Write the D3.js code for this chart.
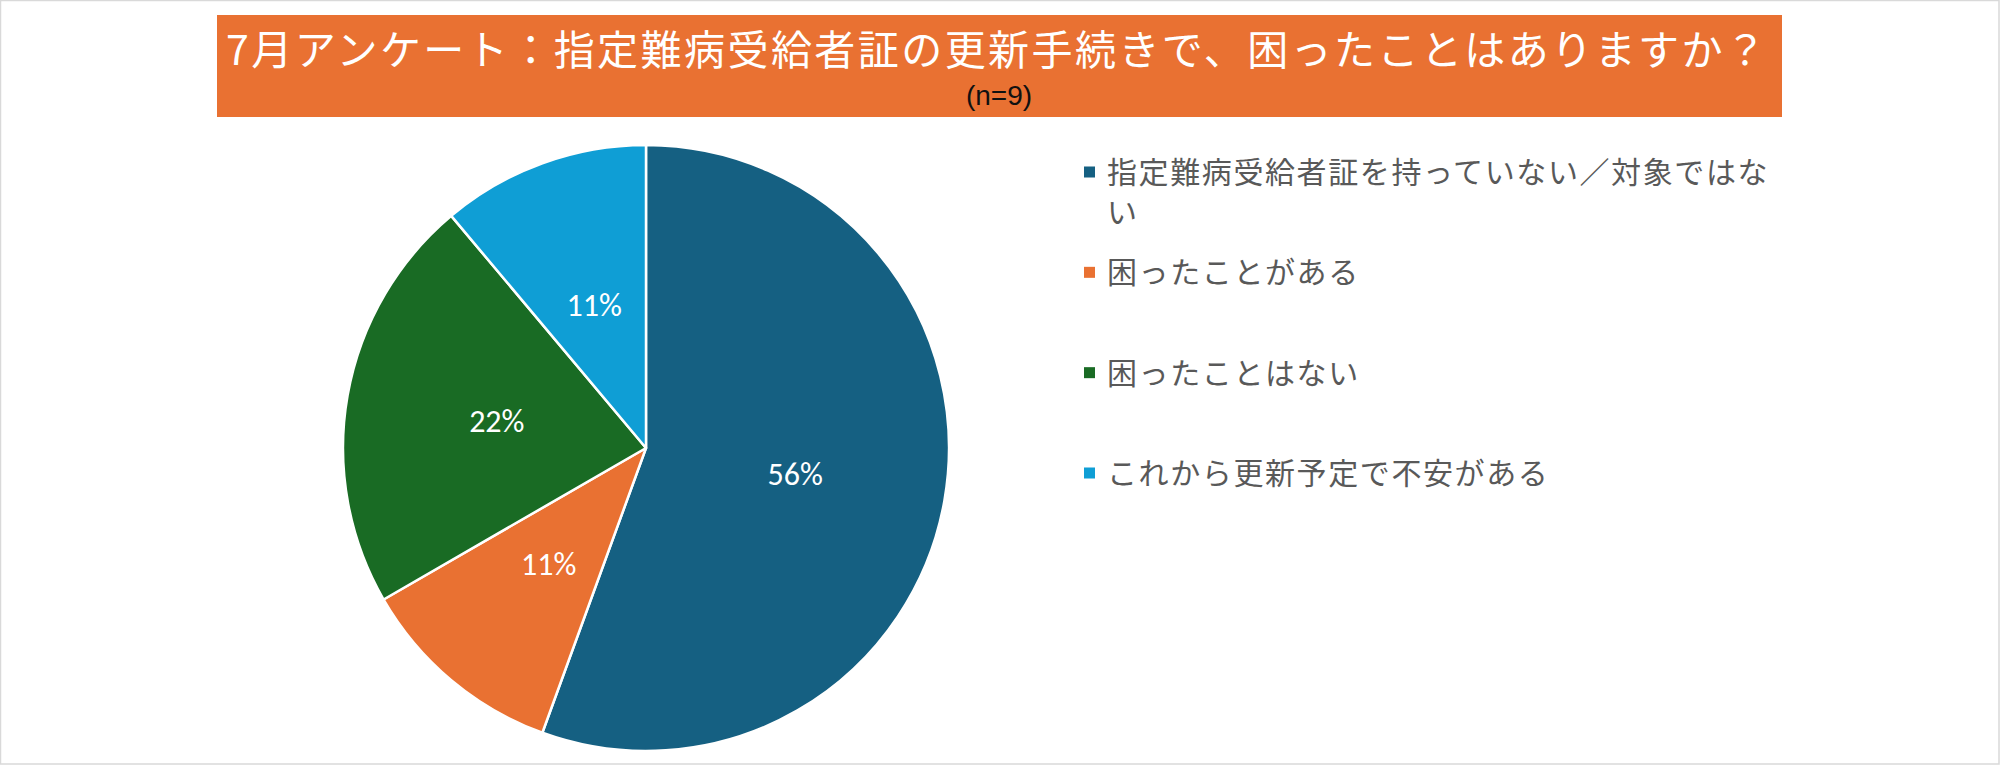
<!DOCTYPE html>
<html>
<head>
<meta charset="utf-8">
<script src="https://cdn.jsdelivr.net/npm/d3@7"></script>
<style>
  html, body { margin: 0; padding: 0; background: #fff; }
  svg { display: block; }
</style>
</head>
<body>
<svg id="chart" width="2000" height="765"></svg>
<script>
// ---- data ----
const titleText = "7月アンケート：指定難病受給者証の更新手続きで、困ったことはありますか？";
const subtitleText = "(n=9)";
const categories = [
  "指定難病受給者証を持っていない／対象ではない",
  "困ったことがある",
  "困ったことはない",
  "これから更新予定で不安がある"
];
const counts = [5, 1, 2, 1];
const colors = ["#156082", "#E97132", "#196B24", "#0F9ED5"];

// ---- layout ----
const W = 2000, H = 765;
const svg = d3.select("#chart");
const jpFont = "'Noto Sans CJK JP', 'Noto Sans', sans-serif";

svg.append("rect")
  .attr("x", 0.5).attr("y", 0.5)
  .attr("width", W - 1.5).attr("height", H - 1.5)
  .attr("fill", "#fff").attr("stroke", "#d9d9d9").attr("stroke-width", 1.5);

// Title box
svg.append("rect")
  .attr("x", 217).attr("y", 15)
  .attr("width", 1565).attr("height", 102)
  .attr("fill", "#E97132");

svg.append("text")
  .attr("x", 226).attr("y", 47)
  .attr("dominant-baseline", "central")
  .attr("textLength", 1540).attr("lengthAdjust", "spacing")
  .attr("font-family", jpFont)
  .attr("font-size", 41)
  .attr("fill", "#ffffff")
  .text(titleText);

svg.append("text")
  .attr("x", 999).attr("y", 95)
  .attr("text-anchor", "middle")
  .attr("dominant-baseline", "central")
  .attr("font-family", "'Liberation Sans', Arial, sans-serif")
  .attr("font-size", 28)
  .attr("fill", "#111")
  .text(subtitleText);

// Pie
const cx = 646, cy = 448, r = 303;
const total = d3.sum(counts);
const pie = d3.pie().sort(null).value(d => d)(counts);
const arc = d3.arc().innerRadius(0).outerRadius(r);
const labelArc = d3.arc().innerRadius(r * 0.5).outerRadius(r * 0.5);

const g = svg.append("g").attr("transform", `translate(${cx},${cy})`);
g.selectAll("path.slice").data(pie).join("path")
  .attr("class", "slice")
  .attr("d", arc)
  .attr("fill", (d, i) => colors[i])
  .attr("stroke", "#ffffff")
  .attr("stroke-width", 2.5)
  .attr("stroke-linejoin", "round");

const fmt = d3.format(".0%");
g.selectAll("text.lbl").data(pie).join("text")
  .attr("class", "lbl")
  .attr("transform", d => `translate(${labelArc.centroid(d)})`)
  .attr("text-anchor", "middle")
  .attr("dominant-baseline", "central")
  .attr("font-family", "Carlito, Lato, 'Open Sans', sans-serif")
  .attr("font-size", 32)
  .attr("fill", "#ffffff")
  .text(d => fmt(d.data / total));

// Legend
const legendY = d3.scaleLinear().domain([0, categories.length - 1]).range([172, 473]);
const legendX = 1084, textX = 1107, maxW = 672, lineH = 40;

const items = svg.append("g").selectAll("g.item").data(categories).join("g")
  .attr("class", "item")
  .attr("transform", (d, i) => `translate(0,${legendY(i)})`);

items.append("rect")
  .attr("x", legendX).attr("y", -5.5)
  .attr("width", 11).attr("height", 11)
  .attr("fill", (d, i) => colors[i]);

items.each(function(label) {
  const t = d3.select(this).append("text")
    .attr("x", textX).attr("y", -2)
    .attr("dominant-baseline", "central")
    .attr("font-family", jpFont)
    .attr("font-size", 30)
    .attr("letter-spacing", 1.6)
    .attr("fill", "#595959");
  const chars = Array.from(label);
  let line = "";
  let ts = t.append("tspan").attr("x", textX).attr("dy", 0);
  for (const ch of chars) {
    ts.text(line + ch);
    if (ts.node().getComputedTextLength() > maxW && line.length > 0) {
      ts.text(line);
      line = ch;
      ts = t.append("tspan").attr("x", textX).attr("dy", lineH).text(line);
    } else {
      line += ch;
    }
  }
});
</script>
</body>
</html>
